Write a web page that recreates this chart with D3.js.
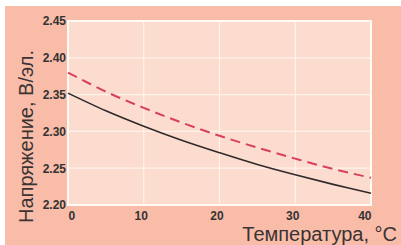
<!DOCTYPE html>
<html>
<head>
<meta charset="utf-8">
<script src="https://cdn.jsdelivr.net/npm/d3@7"></script>
<style>
  html, body { margin: 0; padding: 0; background: #fff; }
  svg { display: block; }
</style>
</head>
<body>
<svg id="chart" width="401" height="245"></svg>
<script>
// temperature, °C
const temps = [0, 5, 10, 15, 20, 25, 30, 35, 40];
// voltage per cell, two curves
const solidVals = [2.352, 2.328, 2.307, 2.288, 2.271, 2.255, 2.241, 2.228, 2.216];
const dashVals = [2.380, 2.354, 2.332, 2.312, 2.294, 2.278, 2.263, 2.249, 2.237];
const xTicks = [0, 10, 20, 30, 40];
const yTicks = [2.20, 2.25, 2.30, 2.35, 2.40, 2.45];

const svg = d3.select("#chart");
const W = 401, H = 245;
const plot = { left: 68, top: 21, right: 371, bottom: 205 };

// pink panel
svg.append("rect")
	.attr("x", 5).attr("y", 6)
	.attr("width", W - 5).attr("height", H - 6)
	.attr("fill", "#f9bca8");

const x = d3.scaleLinear().domain([0, 40]).range([plot.left, plot.right]);
const y = d3.scaleLinear().domain([2.20, 2.45]).range([plot.bottom, plot.top]);

// plot background
svg.append("rect")
	.attr("x", plot.left).attr("y", plot.top)
	.attr("width", plot.right - plot.left).attr("height", plot.bottom - plot.top)
	.attr("fill", "#fcdccf");

// grid
svg.append("g")
	.selectAll("line")
	.data(xTicks)
	.join("line")
	.attr("x1", d => x(d)).attr("x2", d => x(d))
	.attr("y1", plot.top).attr("y2", plot.bottom)
	.attr("stroke", "#fff3ec").attr("stroke-width", 1.2);
svg.append("g")
	.selectAll("line")
	.data(yTicks)
	.join("line")
	.attr("x1", plot.left).attr("x2", plot.right)
	.attr("y1", d => y(d)).attr("y2", d => y(d))
	.attr("stroke", "#fff3ec").attr("stroke-width", 1.2);

// border
svg.append("rect")
	.attr("x", plot.left).attr("y", plot.top)
	.attr("width", plot.right - plot.left).attr("height", plot.bottom - plot.top)
	.attr("fill", "none")
	.attr("stroke", "#fffaf2").attr("stroke-width", 2);

// curves
const line = d3.line()
	.x(d => x(d[0]))
	.y(d => y(d[1]))
	.curve(d3.curveCatmullRom);

svg.append("path")
	.datum(temps.map((t, i) => [t, dashVals[i]]))
	.attr("d", line)
	.attr("fill", "none")
	.attr("stroke", "#d8405c")
	.attr("stroke-width", 2)
	.attr("stroke-dasharray", "10,6");

svg.append("path")
	.datum(temps.map((t, i) => [t, solidVals[i]]))
	.attr("d", line)
	.attr("fill", "none")
	.attr("stroke", "#2f2a2a")
	.attr("stroke-width", 1.6);

// axes (labels only)
const xAxis = svg.append("g")
	.attr("transform", `translate(0,${plot.bottom})`)
	.call(d3.axisBottom(x).tickValues(xTicks).tickSize(0).tickPadding(6).tickFormat(d3.format("d")));
xAxis.select(".domain").remove();
xAxis.selectAll("text")
	.attr("font-family", "Liberation Sans, Arial, sans-serif")
	.attr("font-weight", "bold")
	.attr("font-size", 12)
	.attr("fill", "#333")
	.attr("text-anchor", (d, i) => i === 0 ? "start" : (i === xTicks.length - 1 ? "end" : "middle"))
	.attr("dx", (d, i) => (i === 0 || i === xTicks.length - 1) ? 0 : -3);

const yAxis = svg.append("g")
	.attr("transform", `translate(${plot.left},0)`)
	.call(d3.axisLeft(y).tickValues(yTicks).tickSize(0).tickPadding(2).tickFormat(d3.format(".2f")));
yAxis.select(".domain").remove();
yAxis.selectAll("text")
	.attr("font-family", "Liberation Sans, Arial, sans-serif")
	.attr("font-weight", "bold")
	.attr("font-size", 12)
	.attr("fill", "#333");

// axis titles
svg.append("text")
	.attr("x", 397).attr("y", 240.5)
	.attr("text-anchor", "end")
	.attr("font-family", "Liberation Sans, Arial, sans-serif")
	.attr("font-size", 20)
	.attr("fill", "#3a3333")
	.text("Температура, °C");

svg.append("text")
	.attr("transform", "translate(33,223) rotate(-90)")
	.attr("text-anchor", "start")
	.attr("font-family", "Liberation Sans, Arial, sans-serif")
	.attr("font-size", 20)
	.attr("fill", "#3a3333")
	.text("Напряжение, В/эл.");
</script>
</body>
</html>
